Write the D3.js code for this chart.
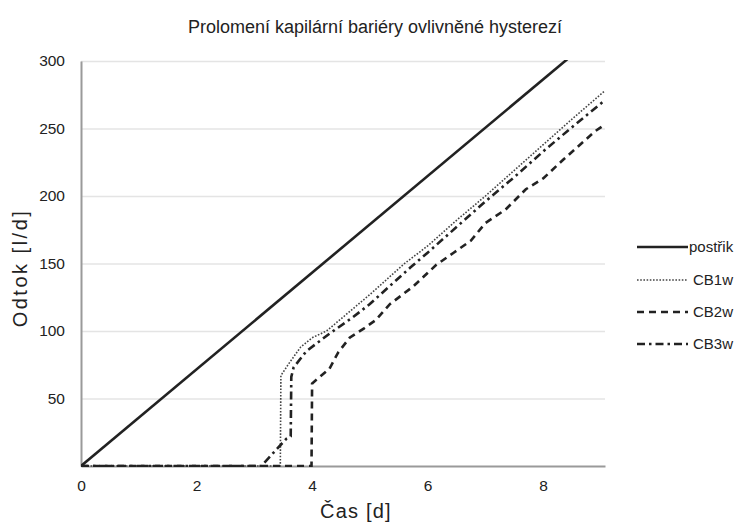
<!DOCTYPE html>
<html>
<head>
<meta charset="utf-8">
<script src="https://cdn.jsdelivr.net/npm/d3@7"></script>
<style>
  body { margin: 0; background: #fff; }
  svg text { font-family: "Liberation Sans", Arial, sans-serif; fill: #222; }
</style>
</head>
<body>
<div id="chart"></div>
<script>
// data
const seriesNames = ["postřik", "CB1w", "CB2w", "CB3w"];
const postrik = [[0, 0], [9.07, 324.7]];
const cb1w = [[0, 0], [3.45, 0], [3.46, 67], [3.6, 76], [3.8, 88], [4.0, 95], [4.25, 100], [4.5, 109],
              [5.0, 127], [5.6, 150], [6.0, 163], [6.5, 182], [7.0, 200], [7.5, 219], [8.0, 238], [8.5, 257], [9.07, 278]];
const cb2w = [[0, 0], [3.99, 0], [4.0, 61], [4.05, 63], [4.3, 72], [4.45, 84], [4.65, 95], [4.9, 102], [5.1, 108],
              [5.35, 120], [5.75, 133], [6.15, 149], [6.45, 158], [6.75, 167], [7.0, 180], [7.35, 190], [7.7, 205],
              [8.0, 213], [8.35, 227], [8.9, 248], [9.07, 253]];
const cb3w = [[0, 0], [3.12, 0], [3.55, 20], [3.63, 22], [3.64, 66], [3.68, 73], [3.9, 85], [4.3, 98], [4.7, 110],
              [5.0, 120], [5.7, 147], [6.0, 158], [6.5, 177], [7.0, 196], [7.5, 214], [8.0, 233], [8.5, 251], [9.07, 271]];
const xTicks = [0, 2, 4, 6, 8];
const yTicks = [50, 100, 150, 200, 250, 300];

const width = 742, height = 526;
const margin = { left: 81, right: 137, top: 61, bottom: 60 };

const svg = d3.select("#chart").append("svg")
    .attr("width", width)
    .attr("height", height);

const x = d3.scaleLinear().domain([0, 9.07]).range([margin.left, width - margin.right]);
const y = d3.scaleLinear().domain([0, 300]).range([height - margin.bottom, margin.top]);

// grid
svg.append("g")
    .attr("transform", `translate(${margin.left},0)`)
    .call(d3.axisLeft(y).tickValues(yTicks).tickSize(-(width - margin.right - margin.left)).tickFormat(""))
    .call(g => g.select(".domain").remove())
    .call(g => g.selectAll("line").attr("stroke", "#e4e4e4").attr("stroke-width", 1.5));

// y labels
svg.append("g")
    .attr("transform", `translate(${margin.left},0)`)
    .call(d3.axisLeft(y).tickValues(yTicks).tickSize(0).tickPadding(16))
    .call(g => g.select(".domain").attr("stroke", "#9a9a9a").attr("stroke-width", 2))
    .call(g => g.selectAll("text").attr("font-size", 15.5).style("font-family", "Liberation Sans, Arial"));

// x axis
svg.append("g")
    .attr("transform", `translate(0,${height - margin.bottom})`)
    .call(d3.axisBottom(x).tickValues(xTicks).tickSize(0).tickPadding(14))
    .call(g => g.select(".domain").attr("stroke", "#9a9a9a").attr("stroke-width", 2))
    .call(g => g.selectAll("text").attr("font-size", 15.5).style("font-family", "Liberation Sans, Arial"));

svg.append("defs").append("clipPath").attr("id", "clip")
    .append("rect")
    .attr("x", margin.left).attr("y", margin.top - 1)
    .attr("width", width - margin.left - margin.right)
    .attr("height", height - margin.top - margin.bottom + 2);

const styles = {
    "postřik": { w: 2.6, dash: null, c: "#222" },
    "CB1w": { w: 1.6, dash: "1.6 1.6", c: "#444" },
    "CB2w": { w: 2.6, dash: "7 5", c: "#222" },
    "CB3w": { w: 2.6, dash: "8 4 2.5 4", c: "#222" }
};
const allData = [postrik, cb1w, cb2w, cb3w];

const line = d3.line().x(d => x(d[0])).y(d => y(d[1]));

const plot = svg.append("g").attr("clip-path", "url(#clip)");
seriesNames.forEach((name, i) => {
    const s = styles[name];
    plot.append("path")
        .datum(allData[i])
        .attr("fill", "none")
        .attr("stroke", s.c)
        .attr("stroke-width", s.w)
        .attr("stroke-dasharray", s.dash)
        .attr("d", line);
});

// legend
const legendY = [247, 280, 312, 344];
seriesNames.forEach((name, i) => {
    const s = styles[name];
    svg.append("line")
        .attr("x1", 637).attr("x2", 688)
        .attr("y1", legendY[i]).attr("y2", legendY[i])
        .attr("stroke", s.c)
        .attr("stroke-width", s.w)
        .attr("stroke-dasharray", s.dash);
    svg.append("text")
        .attr("x", i === 0 ? 689 : 693)
        .attr("y", legendY[i] + 5)
        .attr("font-size", 15)
        .text(name);
});

// titles
svg.append("text")
    .attr("x", 375).attr("y", 33)
    .attr("text-anchor", "middle")
    .attr("font-size", 18)
    .text("Prolomení kapilární bariéry ovlivněné hysterezí");

svg.append("text")
    .attr("x", 356).attr("y", 518)
    .attr("text-anchor", "middle")
    .attr("font-size", 20)
    .attr("letter-spacing", 1.2)
    .text("Čas [d]");

svg.append("text")
    .attr("transform", "translate(27,268) rotate(-90)")
    .attr("text-anchor", "middle")
    .attr("font-size", 20)
    .attr("letter-spacing", 2.5)
    .text("Odtok [l/d]");
</script>
</body>
</html>
